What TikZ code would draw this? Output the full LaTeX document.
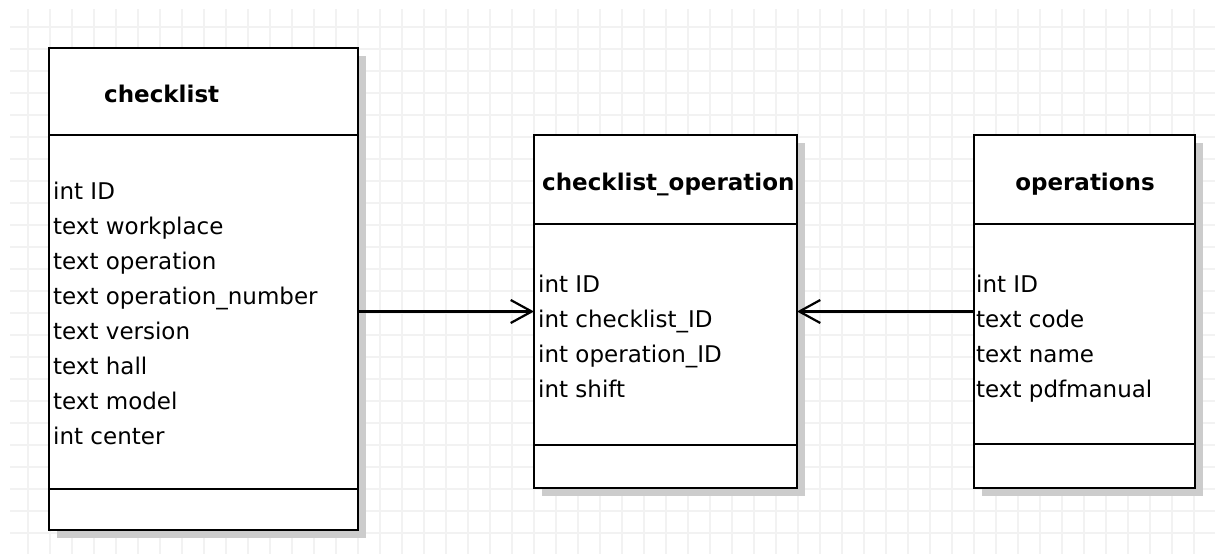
\documentclass[tikz,border=0pt]{standalone}
\usepackage{fontspec}
\setmainfont{DejaVu Sans}
\usetikzlibrary{calc}
\usetikzlibrary{shadows}
\usetikzlibrary{arrows.meta}
\tikzset{
    every picture/.append style={
        >={Straight Barb[length=21pt,width=23pt]}
    }
}
\tikzset{
    gridline/.style={draw=black!5, line width=1.5pt},
    classbox/.style={draw=black, fill=white, line width=2.2pt, inner sep=0pt, outer sep=0pt,
        anchor=north west, general shadow={fill=black!20, shadow xshift=8pt, shadow yshift=-8pt}},
    divider/.style={draw=black, line width=2.2pt},
    title/.style={font=\bfseries\fontsize{23}{28}\selectfont, inner sep=0pt},
    field/.style={font=\fontsize{23}{28}\selectfont, inner sep=0pt, anchor=base west},
}

\begin{document}
\begin{tikzpicture}[x=1pt, y=-1pt]
		\useasboundingbox (0,0) rectangle (1215,554);
		% background grid
		\foreach \k in {0,...,53}
			\draw[gridline] ({28+22*\k},9) -- ({28+22*\k},554);
		\foreach \k in {0,...,23}
			\draw[gridline] (10,{27+22*\k}) -- (1215,{27+22*\k});
		
		% classes
		\node[classbox, minimum width=309pt, minimum height=482pt] (checklist) at (49,48) {};
		\node[classbox, minimum width=263pt, minimum height=353pt] (chop) at (534,135) {};
		\node[classbox, minimum width=221pt, minimum height=353pt] (ops) at (974,135) {};
		
		\draw[divider] ($(checklist.north west)+(0,87)$) -- ($(checklist.north east)+(0,87)$);
		\draw[divider] ($(checklist.north west)+(0,441)$) -- ($(checklist.north east)+(0,441)$);
		\draw[divider] ($(chop.north west)+(0,89)$) -- ($(chop.north east)+(0,89)$);
		\draw[divider] ($(chop.north west)+(0,310)$) -- ($(chop.north east)+(0,310)$);
		\draw[divider] ($(ops.north west)+(0,89)$) -- ($(ops.north east)+(0,89)$);
		\draw[divider] ($(ops.north west)+(0,309)$) -- ($(ops.north east)+(0,309)$);
		
		\node[title, anchor=base west] (cltitle) at (104,102) {checklist};
		\node[title, anchor=base west] (chtitle) at (542,190) {checklist\_operation};
		\node[title, anchor=base] (optitle) at (1085,190) {operations};
		
		% fields
		\foreach \txt [count=\i] in {int ID, text workplace, text operation, text operation\_number,
				text version, text hall, text model, int center}
			\node[field] (cl\i) at (53,{164+35*\i}) {\txt};
		\foreach \txt [count=\i] in {int ID, int checklist\_ID, int operation\_ID, int shift}
			\node[field] (ch\i) at (538,{257+35*\i}) {\txt};
		\foreach \txt [count=\i] in {int ID, text code, text name, text pdfmanual}
			\node[field] (op\i) at (976,{257+35*\i}) {\txt};
		
		% associations
		\draw[->, line width=2.2pt] (checklist.east |- chop.west) -- (chop.west);
		\draw[->, line width=2.2pt] (ops.west) -- (chop.east);
\end{tikzpicture}
\end{document}
